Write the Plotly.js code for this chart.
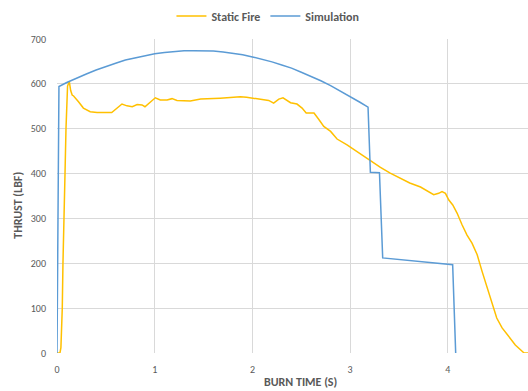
<!DOCTYPE html>
<html>
<head>
<meta charset="utf-8">
<script src="https://cdn.plot.ly/plotly-3.0.1.min.js"></script>
<style>html,body{margin:0;padding:0;background:#fff;}#chart{width:528px;height:391px;}</style>
</head>
<body>
<div id="chart"></div>
<script>
// Static Fire (measured)
const staticTime = [0, 0.03, 0.04, 0.054, 0.061, 0.068, 0.075, 0.082, 0.092, 0.098, 0.108, 0.126, 0.14, 0.155, 0.17, 0.22, 0.27, 0.34, 0.41, 0.56, 0.61, 0.665, 0.716, 0.77, 0.82, 0.87, 0.90, 0.955, 1.006, 1.057, 1.126, 1.177, 1.228, 1.364, 1.47, 1.67, 1.876, 1.94, 2.08, 2.166, 2.217, 2.27, 2.313, 2.35, 2.39, 2.456, 2.508, 2.55, 2.59, 2.63, 2.678, 2.73, 2.80, 2.866, 2.968, 3.036, 3.14, 3.224, 3.31, 3.41, 3.51, 3.61, 3.72, 3.79, 3.855, 3.906, 3.94, 3.975, 4.01, 4.05, 4.094, 4.145, 4.196, 4.247, 4.30, 4.35, 4.40, 4.452, 4.50, 4.555, 4.623, 4.69, 4.76, 4.78, 4.82];
const staticThrust = [0, 0, 12, 100, 200, 300, 360, 400, 500, 550, 595, 605, 585, 575, 573, 560, 546, 538, 536, 536, 546, 555, 551, 549, 554, 553, 549, 560, 569, 564, 564, 567, 563, 562, 566, 568, 571, 570, 566, 563, 557, 566, 569, 564, 558, 555, 546, 535, 535, 535, 521, 505, 494, 477, 464, 454, 439, 427, 414, 401, 390, 379, 370, 362, 353, 356, 360, 356, 341, 330, 312, 286, 263, 245, 219, 182, 148, 111, 78, 56, 37, 18, 4, 0, 0];
// Simulation
const simTime = [0, 0.02, 0.1, 0.2, 0.3, 0.4, 0.5, 0.6, 0.7, 0.8, 0.9, 1.0, 1.1, 1.2, 1.3, 1.4, 1.5, 1.6, 1.7, 1.8, 1.9, 2.0, 2.1, 2.2, 2.3, 2.4, 2.5, 2.6, 2.7, 2.8, 2.9, 3.0, 3.1, 3.183, 3.207, 3.30, 3.333, 4.049, 4.08];
const simThrust = [0, 594, 603, 613, 622, 631, 639, 646, 653, 658, 663, 667, 670, 672, 674, 674, 674, 673, 671, 668, 665, 660, 655, 649, 642, 635, 626, 617, 607, 596, 584, 572, 559, 548, 403, 402, 212, 197, 0];

const seriesNames = ["Static Fire", "Simulation"];
const xTickVals = [0, 1, 2, 3, 4];
const yTickVals = [0, 100, 200, 300, 400, 500, 600, 700];
const xTitle = "BURN TIME (S)";
const yTitle = "THRUST (LBF)";

const FONT = "Carlito, Lato, 'Open Sans', sans-serif";
const GREY = "#595959";

const traces = [
  {x: staticTime, y: staticThrust, name: seriesNames[0], type: "scatter", mode: "lines",
   line: {color: "#FFC000", width: 1.5}},
  {x: simTime, y: simThrust, name: seriesNames[1], type: "scatter", mode: "lines",
   line: {color: "#5B9BD5", width: 1.5}}
];

const layout = {
  width: 528, height: 391,
  margin: {l: 57, r: 0, t: 39, b: 38, pad: 0},
  paper_bgcolor: "#fff", plot_bgcolor: "#fff",
  font: {family: FONT, size: 10, color: GREY},
  showlegend: true,
  legend: {orientation: "h", x: 0.243, xanchor: "left", y: 1.073, yanchor: "middle",
    font: {family: FONT, size: 12, color: GREY, weight: "bold"}, itemwidth: 30, tracegroupgap: 0, bgcolor: "rgba(0,0,0,0)"},
  xaxis: {range: [0, 4.82], tickvals: xTickVals, showgrid: true, gridcolor: "#d9d9d9", gridwidth: 1,
    zeroline: false, showline: false, ticks: "", ticklabelstandoff: 9, fixedrange: true,
    tickfont: {family: FONT, size: 10, color: GREY}},
  yaxis: {range: [0, 700], tickvals: yTickVals, showgrid: true, gridcolor: "#d9d9d9", gridwidth: 1,
    zeroline: false, showline: false, ticks: "", ticklabelstandoff: 10, fixedrange: true,
    tickfont: {family: FONT, size: 10, color: GREY}},
  annotations: [
    {text: xTitle, xref: "paper", yref: "paper", x: 0.518, y: -0.0913, xanchor: "center", yanchor: "middle",
     showarrow: false, font: {family: FONT, size: 12, color: GREY, weight: "bold"}},
    {text: yTitle, xref: "paper", yref: "paper", x: -0.083, y: 0.472, xanchor: "center", yanchor: "middle",
     textangle: -90, showarrow: false, font: {family: FONT, size: 12, color: GREY, weight: "bold"}}
  ]
};

Plotly.newPlot("chart", traces, layout, {displayModeBar: false, staticPlot: true});
</script>
</body>
</html>
